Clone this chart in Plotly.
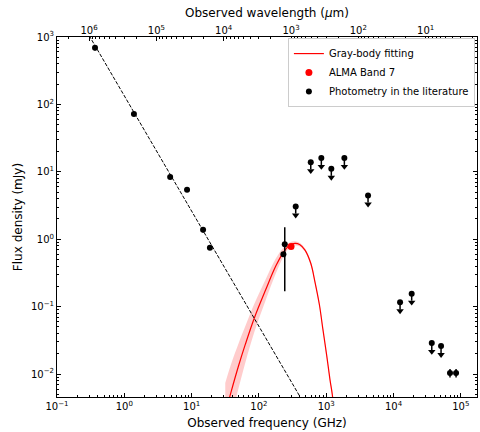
import numpy as np
import plotly.graph_objects as go

# Detections from the literature (GHz, mJy)
lit_nu = [0.367, 1.39, 4.8, 8.55, 14.8, 18.7, 242, 231, 69000, 84900]
lit_flux = [690, 72, 8.4, 5.4, 1.38, 0.75, 0.84, 0.60, 0.0104, 0.0104]
lit_err = [60, 4, 0.4, 0.3, 0.12, 0.05, 0.67, 0.04, 0.0015, 0.0015]

# Upper limits from the literature (GHz, mJy)
ul_nu = [352, 589, 846, 1190, 1860, 4180, 12500, 18600, 37000, 50800]
ul_flux = [3.06, 13.9, 16.1, 11.1, 16.1, 4.45, 0.116, 0.156, 0.029, 0.026]

# ALMA Band 7 measurement
alma_nu = [300]
alma_flux = [0.78]
alma_err = [0.06]

# Synchrotron power-law fit (end points)
sync_nu = [0.3, 450]
sync_flux = [1052, 0.0039]

# Gray-body fit curve and its uncertainty band
gb_nu = [31.6, 38.5, 50.1, 63.1, 85.5, 126, 178, 231, 282, 344, 407, 484,
         589, 682, 794, 887, 1016, 1138, 1233, 1318]
gb_flux = [0.0026, 0.0054, 0.0135, 0.028, 0.068, 0.178, 0.40, 0.64, 0.81,
           0.87, 0.83, 0.69, 0.44, 0.23, 0.105, 0.048, 0.019, 0.0082,
           0.0049, 0.0024]
gb_hi = [0.0074, 0.0140, 0.029, 0.052, 0.110, 0.255, 0.52, 0.75, 0.89,
         0.93, 0.88, 0.73, 0.47, 0.245, 0.112, 0.051, 0.020, 0.0087,
         0.0052, 0.0025]
gb_lo = [0.00090, 0.0021, 0.0063, 0.015, 0.042, 0.124, 0.31, 0.55, 0.74,
         0.81, 0.78, 0.65, 0.41, 0.215, 0.098, 0.045, 0.018, 0.0077,
         0.0046, 0.0022]

# Tick positions
x_major = [10.0 ** k for k in range(-1, 6)]
x_labels = ["10<sup>−1</sup>"] + [f"10<sup>{k}</sup>" for k in range(0, 6)]
x_minor = [m * 10.0 ** k for k in range(-1, 6) for m in range(2, 10) if m * 10.0 ** k < 1.7e5]
y_major = [10.0 ** k for k in range(-2, 4)]
y_labels = [f"10<sup>−{-k}</sup>" if k < 0 else f"10<sup>{k}</sup>" for k in range(-2, 4)]
y_minor = [m * 10.0 ** k for k in range(-3, 3) for m in range(2, 10) if m * 10.0 ** k > 4.6e-3]

# Wavelength (um) axis on top: lambda = c / nu
C_UM_GHZ = 2.998e5
lam_major = [10.0 ** k for k in range(1, 7)]
lam_labels = [f"10<sup>{k}</sup>" for k in range(1, 7)]
lam_minor = [m * 10.0 ** k for k in range(0, 7) for m in range(2, 10)
             if 0.1 < C_UM_GHZ / (m * 10.0 ** k) < 1.7e5]

fig = go.Figure()

# uncertainty band
fig.add_trace(go.Scatter(x=gb_nu, y=gb_hi, mode="lines",
                         line=dict(width=0, shape="spline"),
                         showlegend=False, hoverinfo="skip"))
fig.add_trace(go.Scatter(x=gb_nu, y=gb_lo, mode="lines",
                         line=dict(width=0, shape="spline"),
                         fill="tonexty", fillcolor="rgba(255,0,0,0.2)",
                         showlegend=False, hoverinfo="skip"))

# synchrotron fit on the top (same frequency scale) axis
fig.add_trace(go.Scatter(x=sync_nu, y=sync_flux, mode="lines", xaxis="x2",
                         line=dict(color="black", width=1, dash="3.7px,1.6px"),
                         showlegend=False))

# gray-body fit
fig.add_trace(go.Scatter(x=gb_nu, y=gb_flux, mode="lines",
                         line=dict(color="red", width=1.2, shape="spline"),
                         name="Gray-body fitting", legendrank=1))

# upper-limit arrows
stem_x, stem_y = [], []
for nu, s in zip(ul_nu, ul_flux):
    stem_x += [nu, nu, None]
    stem_y += [s, s * 10 ** -0.105, None]
fig.add_trace(go.Scatter(x=stem_x, y=stem_y, mode="lines",
                         line=dict(color="black", width=1.5),
                         showlegend=False, hoverinfo="skip"))
fig.add_trace(go.Scatter(x=ul_nu, y=[s * 10 ** -0.128 for s in ul_flux],
                         mode="markers",
                         marker=dict(symbol="triangle-down", size=6.5, color="black"),
                         showlegend=False))
fig.add_trace(go.Scatter(x=ul_nu, y=ul_flux, mode="markers",
                         marker=dict(symbol="circle", size=6, color="black"),
                         showlegend=False))

# detections
fig.add_trace(go.Scatter(x=lit_nu, y=lit_flux, mode="markers",
                         marker=dict(symbol="circle", size=6, color="black"),
                         error_y=dict(type="data", array=lit_err, color="black",
                                      thickness=1.5, width=0),
                         name="Photometry in the literature", legendrank=3))

fig.add_trace(go.Scatter(x=alma_nu, y=alma_flux, mode="markers",
                         marker=dict(symbol="circle", size=7, color="red"),
                         error_y=dict(type="data", array=alma_err, color="red",
                                      thickness=1.5, width=0),
                         name="ALMA Band 7", legendrank=2))

axis_common = dict(type="log", showgrid=False, zeroline=False,
                   ticks="inside", ticklen=4, tickwidth=1, tickcolor="black",
                   tickfont=dict(size=10, color="black"))

fig.update_layout(
    width=480, height=432,
    margin=dict(l=57, r=3, t=37, b=35),
    paper_bgcolor="white", plot_bgcolor="white",
    font=dict(family="DejaVu Sans", size=10, color="black"),
    xaxis=dict(**axis_common, range=[-1, 5.24],
               tickmode="array", tickvals=x_major, ticktext=x_labels,
               minor=dict(tickmode="array", tickvals=x_minor, ticks="inside",
                          ticklen=2, tickcolor="black"),
               showline=True, linecolor="black", linewidth=1, mirror=True,
               title=dict(text="Observed frequency (GHz)", font=dict(size=12),
                          standoff=7)),
    xaxis2=dict(**axis_common, range=[-1, 5.24], overlaying="x", side="top",
                tickmode="array",
                tickvals=[C_UM_GHZ / v for v in lam_major], ticktext=lam_labels,
                minor=dict(tickmode="array",
                           tickvals=[C_UM_GHZ / v for v in lam_minor],
                           ticks="inside", ticklen=2, tickcolor="black"),
                showline=False,
                title=dict(text="Observed wavelength (<i>μ</i>m)", font=dict(size=12),
                           standoff=3)),
    yaxis=dict(**axis_common, range=[-2.34, 3],
               tickmode="array", tickvals=y_major, ticktext=y_labels,
               minor=dict(tickmode="array", tickvals=y_minor, ticks="inside",
                          ticklen=2, tickcolor="black"),
               showline=True, linecolor="black", linewidth=1, mirror="ticks",
               title=dict(text="Flux density (mJy)", font=dict(size=12),
                          standoff=5)),
    legend=dict(x=0.995, y=0.997, xanchor="right", yanchor="top",
                bgcolor="white", bordercolor="#cccccc", borderwidth=1,
                font=dict(size=10), traceorder="normal",
                itemwidth=30, tracegroupgap=0),
)

fig.write_html("out.html")
